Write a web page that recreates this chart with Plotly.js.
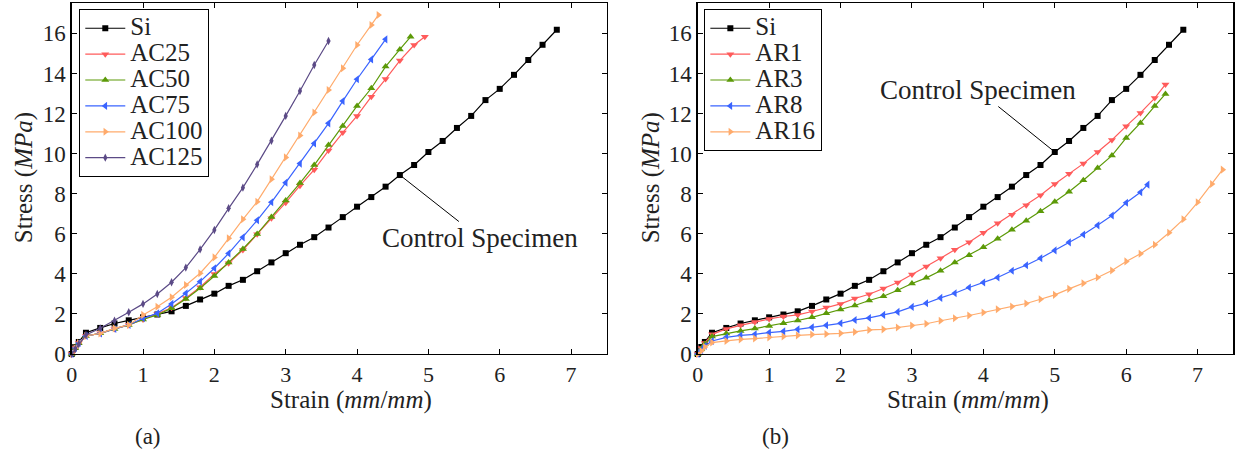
<!DOCTYPE html>
<html>
<head>
<meta charset="utf-8">
<script src="https://cdn.plot.ly/plotly-3.0.1.min.js"></script>
<style>html,body{margin:0;padding:0;background:#fff;}#chart{width:1238px;height:458px;}</style>
</head>
<body>
<div id="chart"></div>
<script>
// ---------- Data (strain in mm/mm, stress in MPa) ----------
const siStrain = [0,0.05,0.1,0.2,0.4,0.6,0.8,1.0,1.2,1.4,1.6,1.8,2.0,2.2,2.4,2.6,2.8,3.0,3.2,3.4,3.6,3.8,4.0,4.2,4.4,4.6,4.8,5.0,5.2,5.4,5.6,5.8,6.0,6.2,6.4,6.6,6.8];
const siStress = [0,0.35,0.6,1.06,1.3,1.52,1.68,1.83,1.97,2.13,2.4,2.72,3.01,3.4,3.7,4.13,4.57,5.03,5.45,5.83,6.31,6.83,7.35,7.83,8.35,8.93,9.43,10.08,10.63,11.28,11.88,12.67,13.23,13.93,14.67,15.43,16.18];

// Panel (a)
const ac25Strain = [0,0.05,0.1,0.2,0.4,0.6,0.8,1.0,1.2,1.4,1.6,1.8,2.0,2.2,2.4,2.6,2.8,3.0,3.2,3.4,3.6,3.8,4.0,4.2,4.4,4.6,4.8,4.95];
const ac25Stress = [0,0.3,0.55,0.9,1.03,1.25,1.45,1.72,2.0,2.31,2.8,3.33,3.99,4.53,5.19,5.97,6.77,7.55,8.4,9.2,10.15,11.05,11.88,12.84,13.72,14.64,15.42,15.83];
const ac50Strain = [0,0.05,0.1,0.2,0.4,0.6,0.8,1.0,1.2,1.4,1.6,1.8,2.0,2.2,2.4,2.6,2.8,3.0,3.2,3.4,3.6,3.8,4.0,4.2,4.4,4.6,4.75];
const ac50Stress = [0,0.3,0.55,0.9,1.03,1.25,1.45,1.72,1.95,2.28,2.74,3.28,3.89,4.57,5.24,5.99,6.84,7.66,8.53,9.43,10.43,11.38,12.38,13.26,14.34,15.2,15.83];
const ac75Strain = [0,0.05,0.1,0.2,0.4,0.6,0.8,1.0,1.2,1.4,1.6,1.8,2.0,2.2,2.4,2.6,2.8,3.0,3.2,3.4,3.6,3.8,4.0,4.2,4.4];
const ac75Stress = [0,0.3,0.55,0.9,1.03,1.25,1.45,1.78,2.03,2.5,3.03,3.61,4.28,5.02,5.82,6.67,7.57,8.55,9.5,10.51,11.51,12.62,13.71,14.7,15.7];
const ac100Strain = [0,0.05,0.1,0.2,0.4,0.6,0.8,1.0,1.2,1.4,1.6,1.8,2.0,2.2,2.4,2.6,2.8,3.0,3.2,3.4,3.6,3.8,4.0,4.2,4.3];
const ac100Stress = [0,0.3,0.55,0.9,1.03,1.28,1.45,1.95,2.36,2.83,3.44,4.03,4.82,5.77,6.72,7.6,8.72,9.81,10.9,12.05,13.17,14.26,15.42,16.42,16.92];
const ac125Strain = [0,0.05,0.1,0.2,0.4,0.6,0.8,1.0,1.2,1.4,1.6,1.8,2.0,2.2,2.4,2.6,2.8,3.0,3.2,3.4,3.6];
const ac125Stress = [0,0.25,0.5,0.95,1.28,1.66,2.08,2.5,2.99,3.58,4.31,5.22,6.19,7.27,8.3,9.46,10.64,11.88,13.12,14.42,15.62];

// Panel (b)
const ar1Strain = [0,0.05,0.1,0.2,0.4,0.6,0.8,1.0,1.2,1.4,1.6,1.8,2.0,2.2,2.4,2.6,2.8,3.0,3.2,3.4,3.6,3.8,4.0,4.2,4.4,4.6,4.8,5.0,5.2,5.4,5.6,5.8,6.0,6.2,6.4,6.55];
const ar1Stress = [0,0.3,0.55,0.98,1.25,1.43,1.6,1.75,1.87,1.95,2.12,2.32,2.5,2.77,2.98,3.27,3.57,3.97,4.36,4.78,5.2,5.58,6.05,6.52,6.95,7.42,7.92,8.48,9.0,9.5,10.08,10.68,11.37,12.03,12.77,13.45];
const ar3Strain = [0,0.05,0.1,0.2,0.4,0.6,0.8,1.0,1.2,1.4,1.6,1.8,2.0,2.2,2.4,2.6,2.8,3.0,3.2,3.4,3.6,3.8,4.0,4.2,4.4,4.6,4.8,5.0,5.2,5.4,5.6,5.8,6.0,6.2,6.4,6.55];
const ar3Stress = [0,0.25,0.5,0.87,1.02,1.15,1.27,1.4,1.53,1.67,1.83,2.03,2.22,2.42,2.67,2.88,3.18,3.52,3.8,4.15,4.57,4.93,5.33,5.75,6.2,6.65,7.12,7.6,8.1,8.67,9.28,9.9,10.78,11.53,12.37,12.98];
const ar8Strain = [0,0.05,0.1,0.2,0.4,0.6,0.8,1.0,1.2,1.4,1.6,1.8,2.0,2.2,2.4,2.6,2.8,3.0,3.2,3.4,3.6,3.8,4.0,4.2,4.4,4.6,4.8,5.0,5.2,5.4,5.6,5.8,6.0,6.2,6.3];
const ar8Stress = [0,0.2,0.4,0.65,0.83,0.93,0.98,1.07,1.13,1.23,1.33,1.43,1.53,1.7,1.8,1.95,2.1,2.35,2.53,2.8,3.03,3.32,3.57,3.82,4.15,4.43,4.78,5.17,5.57,5.96,6.42,6.91,7.55,8.07,8.45];
const ar16Strain = [0,0.05,0.1,0.2,0.4,0.6,0.8,1.0,1.2,1.4,1.6,1.8,2.0,2.2,2.4,2.6,2.8,3.0,3.2,3.4,3.6,3.8,4.0,4.2,4.4,4.6,4.8,5.0,5.2,5.4,5.6,5.8,6.0,6.2,6.4,6.6,6.8,7.0,7.2,7.35];
const ar16Stress = [0,0.15,0.35,0.57,0.65,0.73,0.77,0.83,0.87,0.93,0.97,1.0,1.03,1.1,1.2,1.23,1.32,1.42,1.51,1.66,1.78,1.92,2.07,2.23,2.37,2.52,2.73,2.95,3.25,3.53,3.82,4.17,4.62,5.0,5.45,6.05,6.72,7.57,8.48,9.2];

const seriesNamesA = ['Si','AC25','AC50','AC75','AC100','AC125'];
const seriesNamesB = ['Si','AR1','AR3','AR8','AR16'];
const controlLabel = 'Control Specimen';
const controlPointA = [4.6, 8.93];
const controlPointB = [5.0, 10.08];

// ---------- Styles ----------
const FONT = 'Liberation Serif';
const styles = {
  'Si':   {color:'#000000', symbol:'square', size:6},
  'red':  {color:'#ff5b5b', symbol:'triangle-down', size:7},
  'green':{color:'#5c9a08', symbol:'triangle-up', size:7},
  'blue': {color:'#3a64ff', symbol:'triangle-left', size:7},
  'orange':{color:'#ffab6c', symbol:'triangle-right', size:7},
  'purple':{color:'#5b4a86', symbol:'diamond-tall', size:6}
};
function tr(x, y, name, st, xa, ya, lg){
  return {
    x:x, y:y, type:'scatter', mode:'lines+markers', xaxis:xa, yaxis:ya, legend:lg,
    name:'<span style="font-size:25px">'+name+'</span>',
    line:{color:st.color, width:1.2},
    marker:{color:st.color, symbol:st.symbol, size:st.size, line:{width:0}},
    cliponaxis:false
  };
}
const data = [
  tr(siStrain, siStress, seriesNamesA[0], styles.Si, 'x','y','legend'),
  tr(ac25Strain, ac25Stress, seriesNamesA[1], styles.red, 'x','y','legend'),
  tr(ac50Strain, ac50Stress, seriesNamesA[2], styles.green, 'x','y','legend'),
  tr(ac75Strain, ac75Stress, seriesNamesA[3], styles.blue, 'x','y','legend'),
  tr(ac100Strain, ac100Stress, seriesNamesA[4], styles.orange, 'x','y','legend'),
  tr(ac125Strain, ac125Stress, seriesNamesA[5], styles.purple, 'x','y','legend'),
  tr(siStrain, siStress, seriesNamesB[0], styles.Si, 'x2','y2','legend2'),
  tr(ar1Strain, ar1Stress, seriesNamesB[1], styles.red, 'x2','y2','legend2'),
  tr(ar3Strain, ar3Stress, seriesNamesB[2], styles.green, 'x2','y2','legend2'),
  tr(ar8Strain, ar8Stress, seriesNamesB[3], styles.blue, 'x2','y2','legend2'),
  tr(ar16Strain, ar16Stress, seriesNamesB[4], styles.orange, 'x2','y2','legend2')
];

function xax(dom, anchor){
  return {domain:dom, anchor:anchor, range:[0,7.5], dtick:1, tick0:0, ticks:'inside', ticklen:5,
    tickwidth:1, tickcolor:'#000', showline:true, linecolor:'#000', linewidth:1.3, mirror:'ticks',
    showgrid:false, zeroline:false, tickfont:{family:FONT, size:22, color:'#222'}, fixedrange:true};
}
function yax(anchor){
  return {domain:[0.2271,0.9928], anchor:anchor, range:[0,17.5], dtick:2, tick0:0, ticks:'inside', ticklen:5,
    tickwidth:1, tickcolor:'#000', showline:true, linecolor:'#000', linewidth:1.3, mirror:'ticks',
    showgrid:false, zeroline:false, tickfont:{family:FONT, size:23, color:'#222'}, fixedrange:true};
}
function leg(x){
  return {x:x, y:0.9803, xanchor:'left', yanchor:'top', bgcolor:'#fff', bordercolor:'#000', borderwidth:1.3,
    font:{family:FONT, size:17.6, color:'#222'}, itemwidth:40, itemclick:false, itemdoubleclick:false};
}
function txt(text, x, y, size, angle){
  return {text:text, xref:'paper', yref:'paper', x:x, y:y, showarrow:false, textangle:angle||0,
    font:{family:FONT, size:size, color:'#222'}, xanchor:'center', yanchor:'middle'};
}
const layout = {
  width:1238, height:458, margin:{l:0,r:0,t:0,b:0}, paper_bgcolor:'#fff', plot_bgcolor:'#fff',
  font:{family:FONT, color:'#222'},
  showlegend:true,
  xaxis:xax([0.0579,0.4901],'y'), yaxis:yax('x'),
  xaxis2:xax([0.5636,0.9962],'y2'), yaxis2:yax('x2'),
  legend:leg(0.0638), legend2:leg(0.5687),
  annotations:[
    txt('Stress (<i>MPa</i>)', 0.0194, 0.611, 25, -90),
    txt('Stress (<i>MPa</i>)', 0.526, 0.611, 25, -90),
    txt('Strain (<i>mm</i>/<i>mm</i>)', 0.2835, 0.1266, 25),
    txt('Strain (<i>mm</i>/<i>mm</i>)', 0.7820, 0.1266, 25),
    txt('(a)', 0.1195, 0.0459, 23),
    txt('(b)', 0.6268, 0.0459, 23),
    {text:controlLabel, xref:'x', yref:'y', x:controlPointA[0], y:controlPointA[1], ax:80, ay:63,
     showarrow:true, arrowhead:0, arrowwidth:1, arrowcolor:'#000', font:{family:FONT, size:27, color:'#222'}},
    {text:controlLabel, xref:'x2', yref:'y2', x:controlPointB[0], y:controlPointB[1], ax:-77, ay:-62,
     showarrow:true, arrowhead:0, arrowwidth:1, arrowcolor:'#000', font:{family:FONT, size:27, color:'#222'}}
  ]
};
Plotly.newPlot('chart', data, layout, {displayModeBar:false, staticPlot:true});
</script>
</body>
</html>
